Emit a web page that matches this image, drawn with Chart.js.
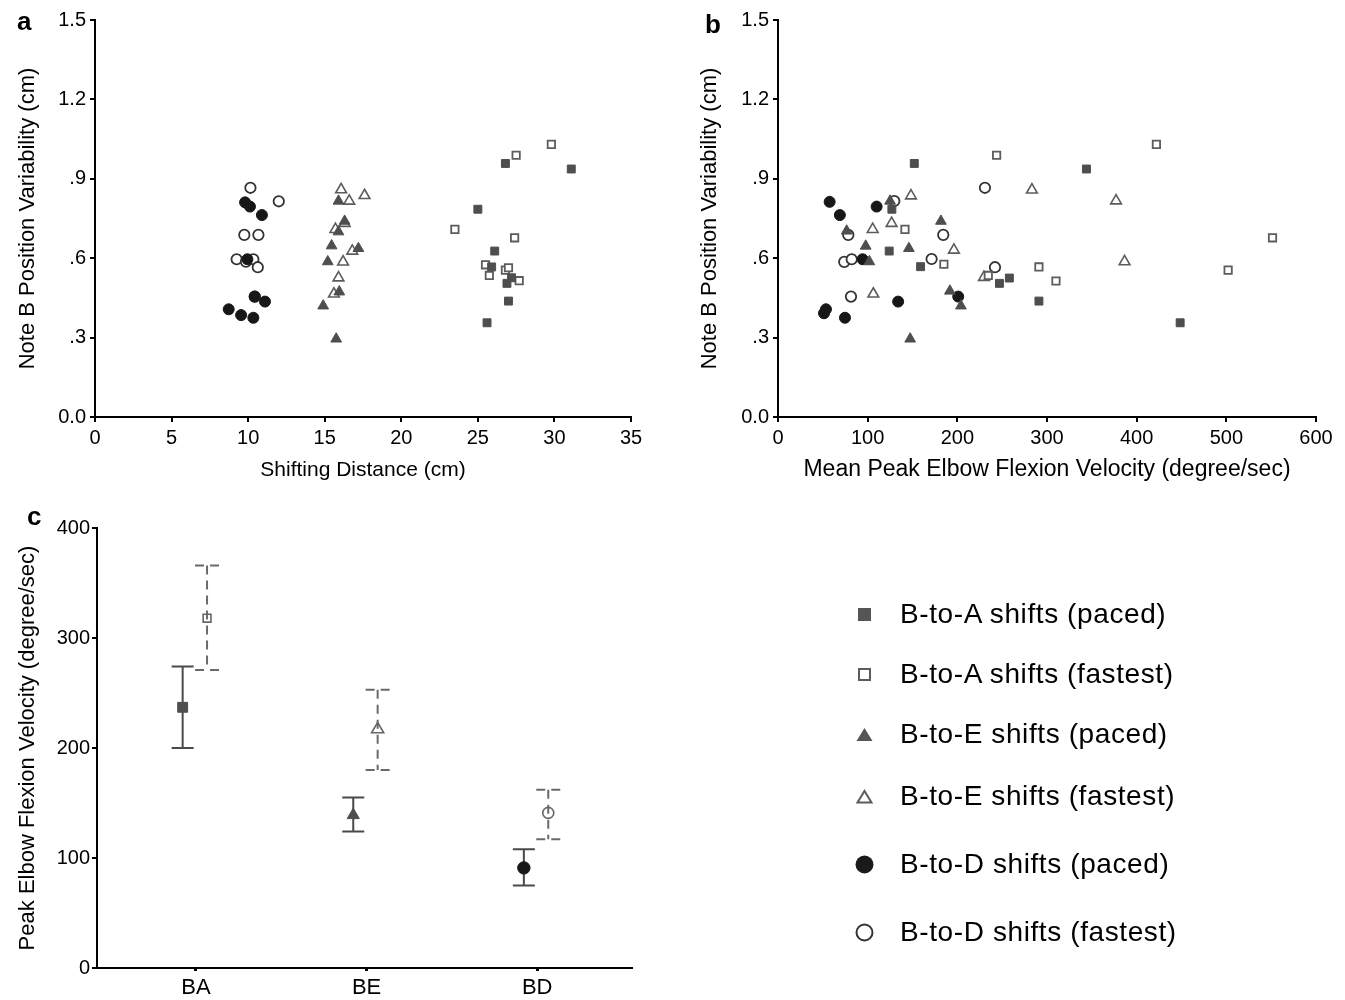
<!DOCTYPE html>
<html>
<head>
<meta charset="utf-8">
<script src="https://cdn.jsdelivr.net/npm/chart.js@4.4.1/dist/chart.umd.min.js"></script>
<style>
  body { margin: 0; background: #fff; width: 1345px; height: 1000px; position: relative; overflow: hidden;
         font-family: "Liberation Sans", Arial, sans-serif; color: #000; }
  canvas { position: absolute; }
  .lab { position: absolute; font-weight: bold; font-size: 26px; line-height: 26px; }
  .item { position: absolute; left: 0; width: 1345px; height: 40px; }
  .item svg { position: absolute; left: 849px; top: 5px; }
  .item span { position: absolute; left: 900px; top: 0; line-height: 40px; font-size: 28px;
               letter-spacing: 0.6px; white-space: nowrap; }
</style>
</head>
<body>
<canvas id="chartA" width="660" height="490" style="left:0;top:0"></canvas>
<canvas id="chartB" width="665" height="490" style="left:680px;top:0"></canvas>
<canvas id="chartC" width="660" height="500" style="left:0;top:500px"></canvas>
<div class="lab" style="left:17px;top:8px">a</div>
<div class="lab" style="left:705px;top:11px">b</div>
<div class="lab" style="left:27px;top:503px">c</div>
<div id="legend"></div>

<script>
// ---- data ----
const seriesNames = ['B-to-A shifts (paced)', 'B-to-A shifts (fastest)', 'B-to-E shifts (paced)',
                     'B-to-E shifts (fastest)', 'B-to-D shifts (paced)', 'B-to-D shifts (fastest)'];

// panel a : shifting distance (cm) vs note B position variability (cm)
const aBaPacedX = [26.8, 31.1, 25.0, 26.1, 25.9, 27.2, 26.9, 27.0, 25.6];
const aBaPacedY = [0.958, 0.937, 0.785, 0.627, 0.567, 0.526, 0.505, 0.438, 0.356];
const aBaFastX = [29.8, 27.5, 23.5, 27.4, 25.5, 25.75, 26.8, 27.0, 27.7];
const aBaFastY = [1.030, 0.989, 0.709, 0.677, 0.575, 0.535, 0.555, 0.564, 0.515];
const aBePacedX = [15.9, 16.3, 15.9, 15.45, 15.2, 17.2, 15.95, 14.9, 15.75];
const aBePacedY = [0.816, 0.740, 0.700, 0.647, 0.587, 0.637, 0.473, 0.420, 0.295];
const aBeFastX = [16.07, 16.6, 17.6, 15.7, 16.3, 16.2, 15.9, 16.8, 15.6];
const aBeFastY = [0.859, 0.816, 0.837, 0.709, 0.732, 0.586, 0.526, 0.627, 0.465];
const aBdPacedX = [8.73, 9.54, 10.34, 10.43, 11.1, 9.95, 9.8, 10.12, 10.9];
const aBdPacedY = [0.407, 0.385, 0.375, 0.455, 0.436, 0.596, 0.811, 0.795, 0.763];
const aBdFastX = [10.15, 12.0, 9.75, 10.67, 9.25, 10.34, 10.63, 9.86, 10.43];
const aBdFastY = [0.866, 0.815, 0.688, 0.688, 0.596, 0.596, 0.566, 0.587, 0.455];

// panel b : mean peak elbow flexion velocity (degree/sec) vs variability (cm)
const bBaPacedX = [152, 344, 127, 124, 159, 247, 258, 291, 448.5];
const bBaPacedY = [0.958, 0.937, 0.785, 0.627, 0.568, 0.505, 0.525, 0.438, 0.356];
const bBaFastX = [422, 243.8, 141.6, 551.5, 185, 234.5, 502, 291, 310];
const bBaFastY = [1.030, 0.989, 0.709, 0.677, 0.577, 0.535, 0.555, 0.567, 0.514];
const bBePacedX = [125, 181.7, 76.6, 97.8, 101.9, 146, 191.7, 204, 147.4];
const bBePacedY = [0.816, 0.740, 0.703, 0.646, 0.587, 0.637, 0.476, 0.420, 0.295];
const bBeFastX = [283.2, 148.3, 377, 105.6, 126.7, 386.5, 196.2, 229.7, 106.3];
const bBeFastY = [0.858, 0.836, 0.817, 0.709, 0.732, 0.587, 0.631, 0.528, 0.465];
const bBdPacedX = [57.6, 110, 69, 94.4, 51.3, 53.5, 74.7, 134, 201];
const bBdPacedY = [0.813, 0.795, 0.763, 0.596, 0.392, 0.407, 0.375, 0.436, 0.455];
const bBdFastX = [230.8, 129.7, 78.4, 184.3, 73.9, 82.2, 171.3, 81.4, 242];
const bBdFastY = [0.866, 0.816, 0.688, 0.688, 0.586, 0.596, 0.597, 0.455, 0.566];

// panel c : peak elbow flexion velocity, mean with error bars
const categories = ['BA', 'BE', 'BD'];
const pacedMean = [237, 139, 91];
const pacedUpper = [274, 155, 108];
const pacedLower = [200, 124, 75];
const fastMean = [318, 217, 141];
const fastUpper = [366, 253, 162];
const fastLower = [271, 180, 117];

// ticks
const distTicks = [0, 5, 10, 15, 20, 25, 30, 35];
const velTicks = [0, 100, 200, 300, 400, 500, 600];
const varTicks = [0, 0.3, 0.6, 0.9, 1.2, 1.5];
const varTickLabels = ['0.0', '.3', '.6', '.9', '1.2', '1.5'];
const peakTicks = [0, 100, 200, 300, 400];

// ---- styles ----
Chart.defaults.font.family = '"Liberation Sans", Arial, sans-serif';
Chart.defaults.color = '#000';

const dark = '#4e4e4e';
const black = '#171717';
const openCol = '#5c5c5c';
const markers = [
    { style: 'rect', r: 5.6, bg: dark, border: dark, bw: 1 },
    { style: 'rect', r: 5.2, bg: '#fff', border: openCol, bw: 1.8 },
    { style: 'triangle', r: 6.2, bg: dark, border: dark, bw: 1 },
    { style: 'triangle', r: 6.2, bg: '#fff', border: openCol, bw: 1.6 },
    { style: 'circle', r: 5.5, bg: black, border: black, bw: 1 },
    { style: 'circle', r: 5.2, bg: '#fff', border: '#333', bw: 1.8 }
];

function pts(xs, ys) {
    return xs.map((x, i) => ({ x: x, y: ys[i] }));
}

function scatterSets(pairs) {
    return pairs.map((p, i) => ({
        label: seriesNames[i],
        data: pts(p[0], p[1]),
        pointStyle: markers[i].style,
        pointRadius: markers[i].r,
        pointBackgroundColor: markers[i].bg,
        pointBorderColor: markers[i].border,
        pointBorderWidth: markers[i].bw
    }));
}

function axis(extra) {
    const base = {
        type: 'linear',
        border: { display: true, color: '#000', width: 2 },
        grid: { display: true, drawOnChartArea: false, drawTicks: true, tickLength: 5, color: '#000', lineWidth: 2 },
        ticks: { color: '#000', font: { size: 20 }, padding: 4, autoSkip: false, maxRotation: 0 }
    };
    return Object.assign(base, extra);
}

function scatterConfig(sets, xMax, xTicks, xTitle, xTitleSize, yWidth, yTitlePad) {
    return {
        type: 'scatter',
        data: { datasets: sets },
        options: {
            responsive: false,
            animation: false,
            events: [],
            layout: { padding: { top: 20, right: 29, left: 0, bottom: 0 } },
            plugins: { legend: { display: false }, tooltip: { enabled: false } },
            scales: {
                x: axis({
                    min: 0, max: xMax,
                    afterBuildTicks: s => { s.ticks = xTicks.map(v => ({ value: v })); },
                    afterFit: s => { s.height = 73; },
                    title: { display: true, text: xTitle, color: '#000', font: { size: xTitleSize }, padding: { top: 0, bottom: 7 } }
                }),
                y: axis({
                    min: 0, max: 1.5,
                    afterBuildTicks: s => { s.ticks = varTicks.map(v => ({ value: v })); },
                    afterFit: s => { s.width = yWidth; },
                    ticks: { color: '#000', font: { size: 20 }, padding: 4, autoSkip: false,
                             callback: (v, i) => varTickLabels[i] },
                    title: { display: true, text: 'Note B Position Variability (cm)', color: '#000',
                             font: { size: 22 }, padding: { top: yTitlePad, bottom: 0 } }
                })
            }
        }
    };
}

new Chart(document.getElementById('chartA'), scatterConfig(scatterSets([
    [aBaPacedX, aBaPacedY], [aBaFastX, aBaFastY], [aBePacedX, aBePacedY],
    [aBeFastX, aBeFastY], [aBdPacedX, aBdPacedY], [aBdFastX, aBdFastY]
]), 35, distTicks, 'Shifting Distance (cm)', 21, 95, 15));

new Chart(document.getElementById('chartB'), scatterConfig(scatterSets([
    [bBaPacedX, bBaPacedY], [bBaFastX, bBaFastY], [bBePacedX, bBePacedY],
    [bBeFastX, bBeFastY], [bBdPacedX, bBdPacedY], [bBdFastX, bBdFastY]
]), 600, velTicks, 'Mean Peak Elbow Flexion Velocity (degree/sec)', 23, 98, 17));

// panel c
const pacedShift = -0.078;
const fastShift = 0.065;

const errorBars = {
    id: 'errorBars',
    beforeDatasetsDraw(chart) {
        const ctx = chart.ctx;
        const y = chart.scales.y;
        chart.data.datasets.forEach((ds, di) => {
            const meta = chart.getDatasetMeta(di);
            ctx.save();
            ctx.strokeStyle = ds.errColor;
            ctx.lineWidth = 2;
            ctx.setLineDash(ds.errDash);
            meta.data.forEach((pt, i) => {
                const top = y.getPixelForValue(ds.errUpper[i]);
                const bot = y.getPixelForValue(ds.errLower[i]);
                const half = ds.capHalf;
                ctx.beginPath();
                ctx.moveTo(pt.x, top);
                ctx.lineTo(pt.x, bot);
                ctx.moveTo(pt.x - half, top);
                ctx.lineTo(pt.x + half, top);
                ctx.moveTo(pt.x - half, bot);
                ctx.lineTo(pt.x + half, bot);
                ctx.stroke();
            });
            ctx.restore();
        });
    }
};

new Chart(document.getElementById('chartC'), {
    type: 'scatter',
    data: {
        datasets: [
            {
                label: 'paced',
                data: categories.map((c, i) => ({ x: i + 1 + pacedShift, y: pacedMean[i] })),
                pointStyle: ['rect', 'triangle', 'circle'],
                pointRadius: [7, 7, 6.2],
                pointBackgroundColor: [dark, dark, black],
                pointBorderColor: [dark, dark, black],
                pointBorderWidth: 1,
                errUpper: pacedUpper, errLower: pacedLower,
                errColor: '#4a4a4a', errDash: [], capHalf: 11
            },
            {
                label: 'fastest',
                data: categories.map((c, i) => ({ x: i + 1 + fastShift, y: fastMean[i] })),
                pointStyle: ['rect', 'triangle', 'circle'],
                pointRadius: [5.5, 7, 5.5],
                pointBackgroundColor: 'rgba(255,255,255,0)',
                pointBorderColor: '#666',
                pointBorderWidth: 1.6,
                errUpper: fastUpper, errLower: fastLower,
                errColor: '#6a6a6a', errDash: [9, 6], capHalf: 12
            }
        ]
    },
    options: {
        responsive: false,
        animation: false,
        events: [],
        layout: { padding: { top: 28, right: 29, left: 0, bottom: 0 } },
        plugins: { legend: { display: false }, tooltip: { enabled: false } },
        scales: {
            x: axis({
                min: 0.42, max: 3.55,
                afterBuildTicks: s => { s.ticks = categories.map((c, i) => ({ value: i + 1 })); },
                afterFit: s => { s.height = 32; },
                grid: { display: true, drawOnChartArea: false, drawTicks: true, tickLength: 3, color: '#000', lineWidth: 3 },
                ticks: { color: '#000', font: { size: 22 }, padding: 4, autoSkip: false, maxRotation: 0,
                         callback: (v, i) => categories[i] }
            }),
            y: axis({
                min: 0, max: 400,
                afterBuildTicks: s => { s.ticks = peakTicks.map(v => ({ value: v })); },
                afterFit: s => { s.width = 97; },
                ticks: { color: '#000', font: { size: 20 }, padding: 2, autoSkip: false },
                title: { display: true, text: 'Peak Elbow Flexion Velocity (degree/sec)', color: '#000',
                         font: { size: 22 }, padding: { top: 15, bottom: 0 } }
            })
        }
    },
    plugins: [errorBars]
});

// legend
const legendTops = [594, 654, 714, 776, 844, 912];
const legendIcons = [
    '<rect x="9" y="9" width="13" height="13" fill="#555"/>',
    '<rect x="10" y="10" width="11" height="11" fill="#fff" stroke="#5c5c5c" stroke-width="2"/>',
    '<polygon points="7.5,22 23.5,22 15.5,9" fill="#555"/>',
    '<polygon points="8.5,21.5 22.5,21.5 15.5,10" fill="#fff" stroke="#5c5c5c" stroke-width="2"/>',
    '<circle cx="15.5" cy="15.5" r="9" fill="#1a1a1a"/>',
    '<circle cx="15.5" cy="15.5" r="8" fill="#fff" stroke="#333" stroke-width="2"/>'
];
const legend = document.getElementById('legend');
seriesNames.forEach((name, i) => {
    const d = document.createElement('div');
    d.className = 'item';
    d.style.top = legendTops[i] + 'px';
    d.innerHTML = '<svg width="31" height="31">' + legendIcons[i] + '</svg><span>' + name + '</span>';
    legend.appendChild(d);
});
</script>
</body>
</html>
